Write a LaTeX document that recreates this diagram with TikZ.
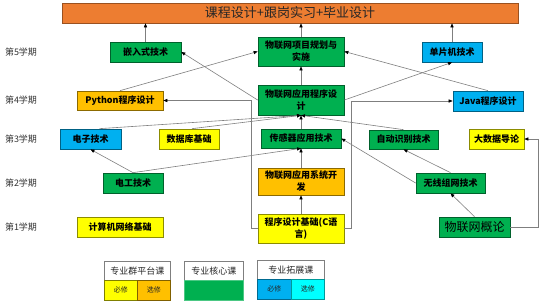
\documentclass[tikz,border=0pt]{standalone}
\usepackage{fontspec}
\setmainfont{Noto Sans CJK SC}
\usetikzlibrary{arrows.meta}
\definecolor{cOrange}{HTML}{ED7D31}
\definecolor{cGreen}{HTML}{00B050}
\definecolor{cBlue}{HTML}{00B0F0}
\definecolor{cYellow}{HTML}{FFFF00}
\definecolor{cGold}{HTML}{FFC000}
\definecolor{cCyan}{HTML}{00FFFF}
\definecolor{cLine}{HTML}{7F7F7F}
\begin{document}
\begin{tikzpicture}[x=1bp,y=-1bp,
  box/.style={draw, line width=0.7bp, inner sep=1bp, align=center,
    font=\fontsize{9bp}{12bp}\selectfont\bfseries, text=black},
  gbox/.style={box, fill=cGreen, draw=cGreen!55!black},
  bbox/.style={box, fill=cBlue, draw=cBlue!55!black},
  ybox/.style={box, fill=cYellow, draw=cYellow!55!black},
  obox/.style={box, fill=cGold, draw=cGold!55!black},
  conn/.style={draw=cLine, line width=0.6bp, -{Triangle[length=4bp,width=3.2bp,color=black]}},
  sem/.style={font=\fontsize{9bp}{11bp}\selectfont, text=black!80},
  lhead/.style={draw=cLine, line width=0.6bp, fill=white, inner sep=0pt, anchor=north west,
    font=\fontsize{9bp}{11bp}\selectfont, text=black!85},
  lcell/.style={draw, line width=0.6bp, inner sep=0pt, anchor=north west,
    font=\fontsize{7bp}{8bp}\selectfont, text=black!85}
]
\useasboundingbox (0,0) rectangle (542,305);

% title
\node[draw=cOrange!65!black, line width=0.7bp, fill=cOrange, minimum width=456bp, minimum height=20bp,
  inner sep=0pt, font=\fontsize{13bp}{14bp}\selectfont, text=black!85] (top) at (290,13) {课程设计+跟岗实习+毕业设计};

% semester labels
\node[sem] (s5) at (21,52) {第5学期};
\node[sem] (s4) at (21,100) {第4学期};
\node[sem] (s3) at (21,139) {第3学期};
\node[sem] (s2) at (21,183) {第2学期};
\node[sem] (s1) at (21,227) {第1学期};

% row 5
\node[gbox, minimum width=71bp, minimum height=20bp] (emb) at (145.5,52) {嵌入式技术};
\node[gbox, minimum width=86bp, minimum height=29bp] (proj) at (301,51.5) {物联网项目规划与\\实施};
\node[bbox, minimum width=60bp, minimum height=20bp] (mcu) at (452,52) {单片机技术};
% row 4
\node[obox, minimum width=86bp, minimum height=19bp] (py) at (120,100.5) {Python程序设计};
\node[gbox, minimum width=86bp, minimum height=30bp] (app) at (301,100) {物联网应用程序设\\计};
\node[bbox, minimum width=70bp, minimum height=20bp] (java) at (488,101) {Java程序设计};
% row 3
\node[bbox, minimum width=61bp, minimum height=20bp] (elec) at (90.5,139) {电子技术};
\node[ybox, minimum width=60bp, minimum height=20bp] (db) at (189,139) {数据库基础};
\node[gbox, minimum width=80bp, minimum height=19bp] (sens) at (301,138.5) {传感器应用技术};
\node[gbox, minimum width=69bp, minimum height=19bp] (rfid) at (403.5,139.5) {自动识别技术};
\node[ybox, minimum width=55bp, minimum height=20bp] (bigd) at (496.5,139) {大数据导论};
% row 2
\node[gbox, minimum width=60bp, minimum height=20bp] (elt) at (133,183) {电工技术};
\node[obox, minimum width=86bp, minimum height=27bp] (sys) at (301,181.5) {物联网应用系统开\\发};
\node[gbox, minimum width=69bp, minimum height=20bp] (wsn) at (450.5,183) {无线组网技术};
% row 1
\node[ybox, minimum width=86bp, minimum height=20bp] (net) at (120,227) {计算机网络基础};
\node[ybox, minimum width=86bp, minimum height=29bp] (cfund) at (301,228.5) {程序设计基础(C语\\言)};
\node[gbox, minimum width=71bp, minimum height=20bp, font=\fontsize{12bp}{13bp}\selectfont] (iot) at (474.5,227) {物联网概论};

% vertical chain
\draw[conn] (emb.north) -- (emb.north |- top.south);
\draw[conn] (proj.north) -- (proj.north |- top.south);
\draw[conn] (mcu.north) -- (mcu.north |- top.south);
\draw[conn] (app.north) -- (proj.south);
\draw[conn] (sens.north) -- (app.south);
\draw[conn] (sys.north) -- (sens.south);
\draw[conn] (cfund.north) -- (sys.south);

% diagonals
\draw[conn] (py.north) -- (proj.west);
\draw[conn] (app.west) -- (emb.east);
\draw[conn] (app.east) -- (mcu.south);
\draw[conn] (java.north) -- (proj.east);
\draw[conn] ([xshift=9bp]elec.north) -- (app.south);
\draw[conn] ([xshift=3bp]db.north) -- (app.south);
\draw[conn] (rfid.north) -- (app.south);
\draw[conn] (elt.north) -- (elec.south);
\draw[conn] (elt.north) -- (sens.south);
\draw[conn] (wsn.west) -- (sens.east);
\draw[conn] (wsn.north) -- (rfid.south);
\draw[conn] (iot.north) -- (wsn.south);

% orthogonal
\draw[conn] (cfund.west) -- ++(-6,0) |- (py.east);
\draw[conn] (cfund.east) -- ++(7,0) |- (java.west);
\draw[conn] (iot.east) -- ++(28,0) |- (bigd.east);

% legend
\node[lhead, minimum width=66bp, minimum height=19bp] (l1h) at (104,261) {专业群平台课};
\node[lcell, fill=cYellow, draw=cYellow!50!black, minimum width=33bp, minimum height=20bp] (l1a) at (104,280) {必修};
\node[lcell, fill=cGold, draw=cGold!50!black, minimum width=33bp, minimum height=20bp] (l1b) at (137,280) {选修};

\node[lhead, minimum width=59bp, minimum height=19bp] (l2h) at (184,261) {专业核心课};
\node[lcell, fill=cGreen, draw=cGreen!70!white, minimum width=59bp, minimum height=20bp] (l2a) at (184,280) {};

\node[lhead, minimum width=67bp, minimum height=19bp] (l3h) at (257,260) {专业拓展课};
\node[lcell, fill=cBlue, draw=cBlue!60!black, minimum width=34bp, minimum height=20bp] (l3a) at (257,279) {必修};
\node[lcell, fill=cCyan, draw=cCyan!60!black, minimum width=33bp, minimum height=20bp] (l3b) at (291,279) {选修};
\end{tikzpicture}
\end{document}
